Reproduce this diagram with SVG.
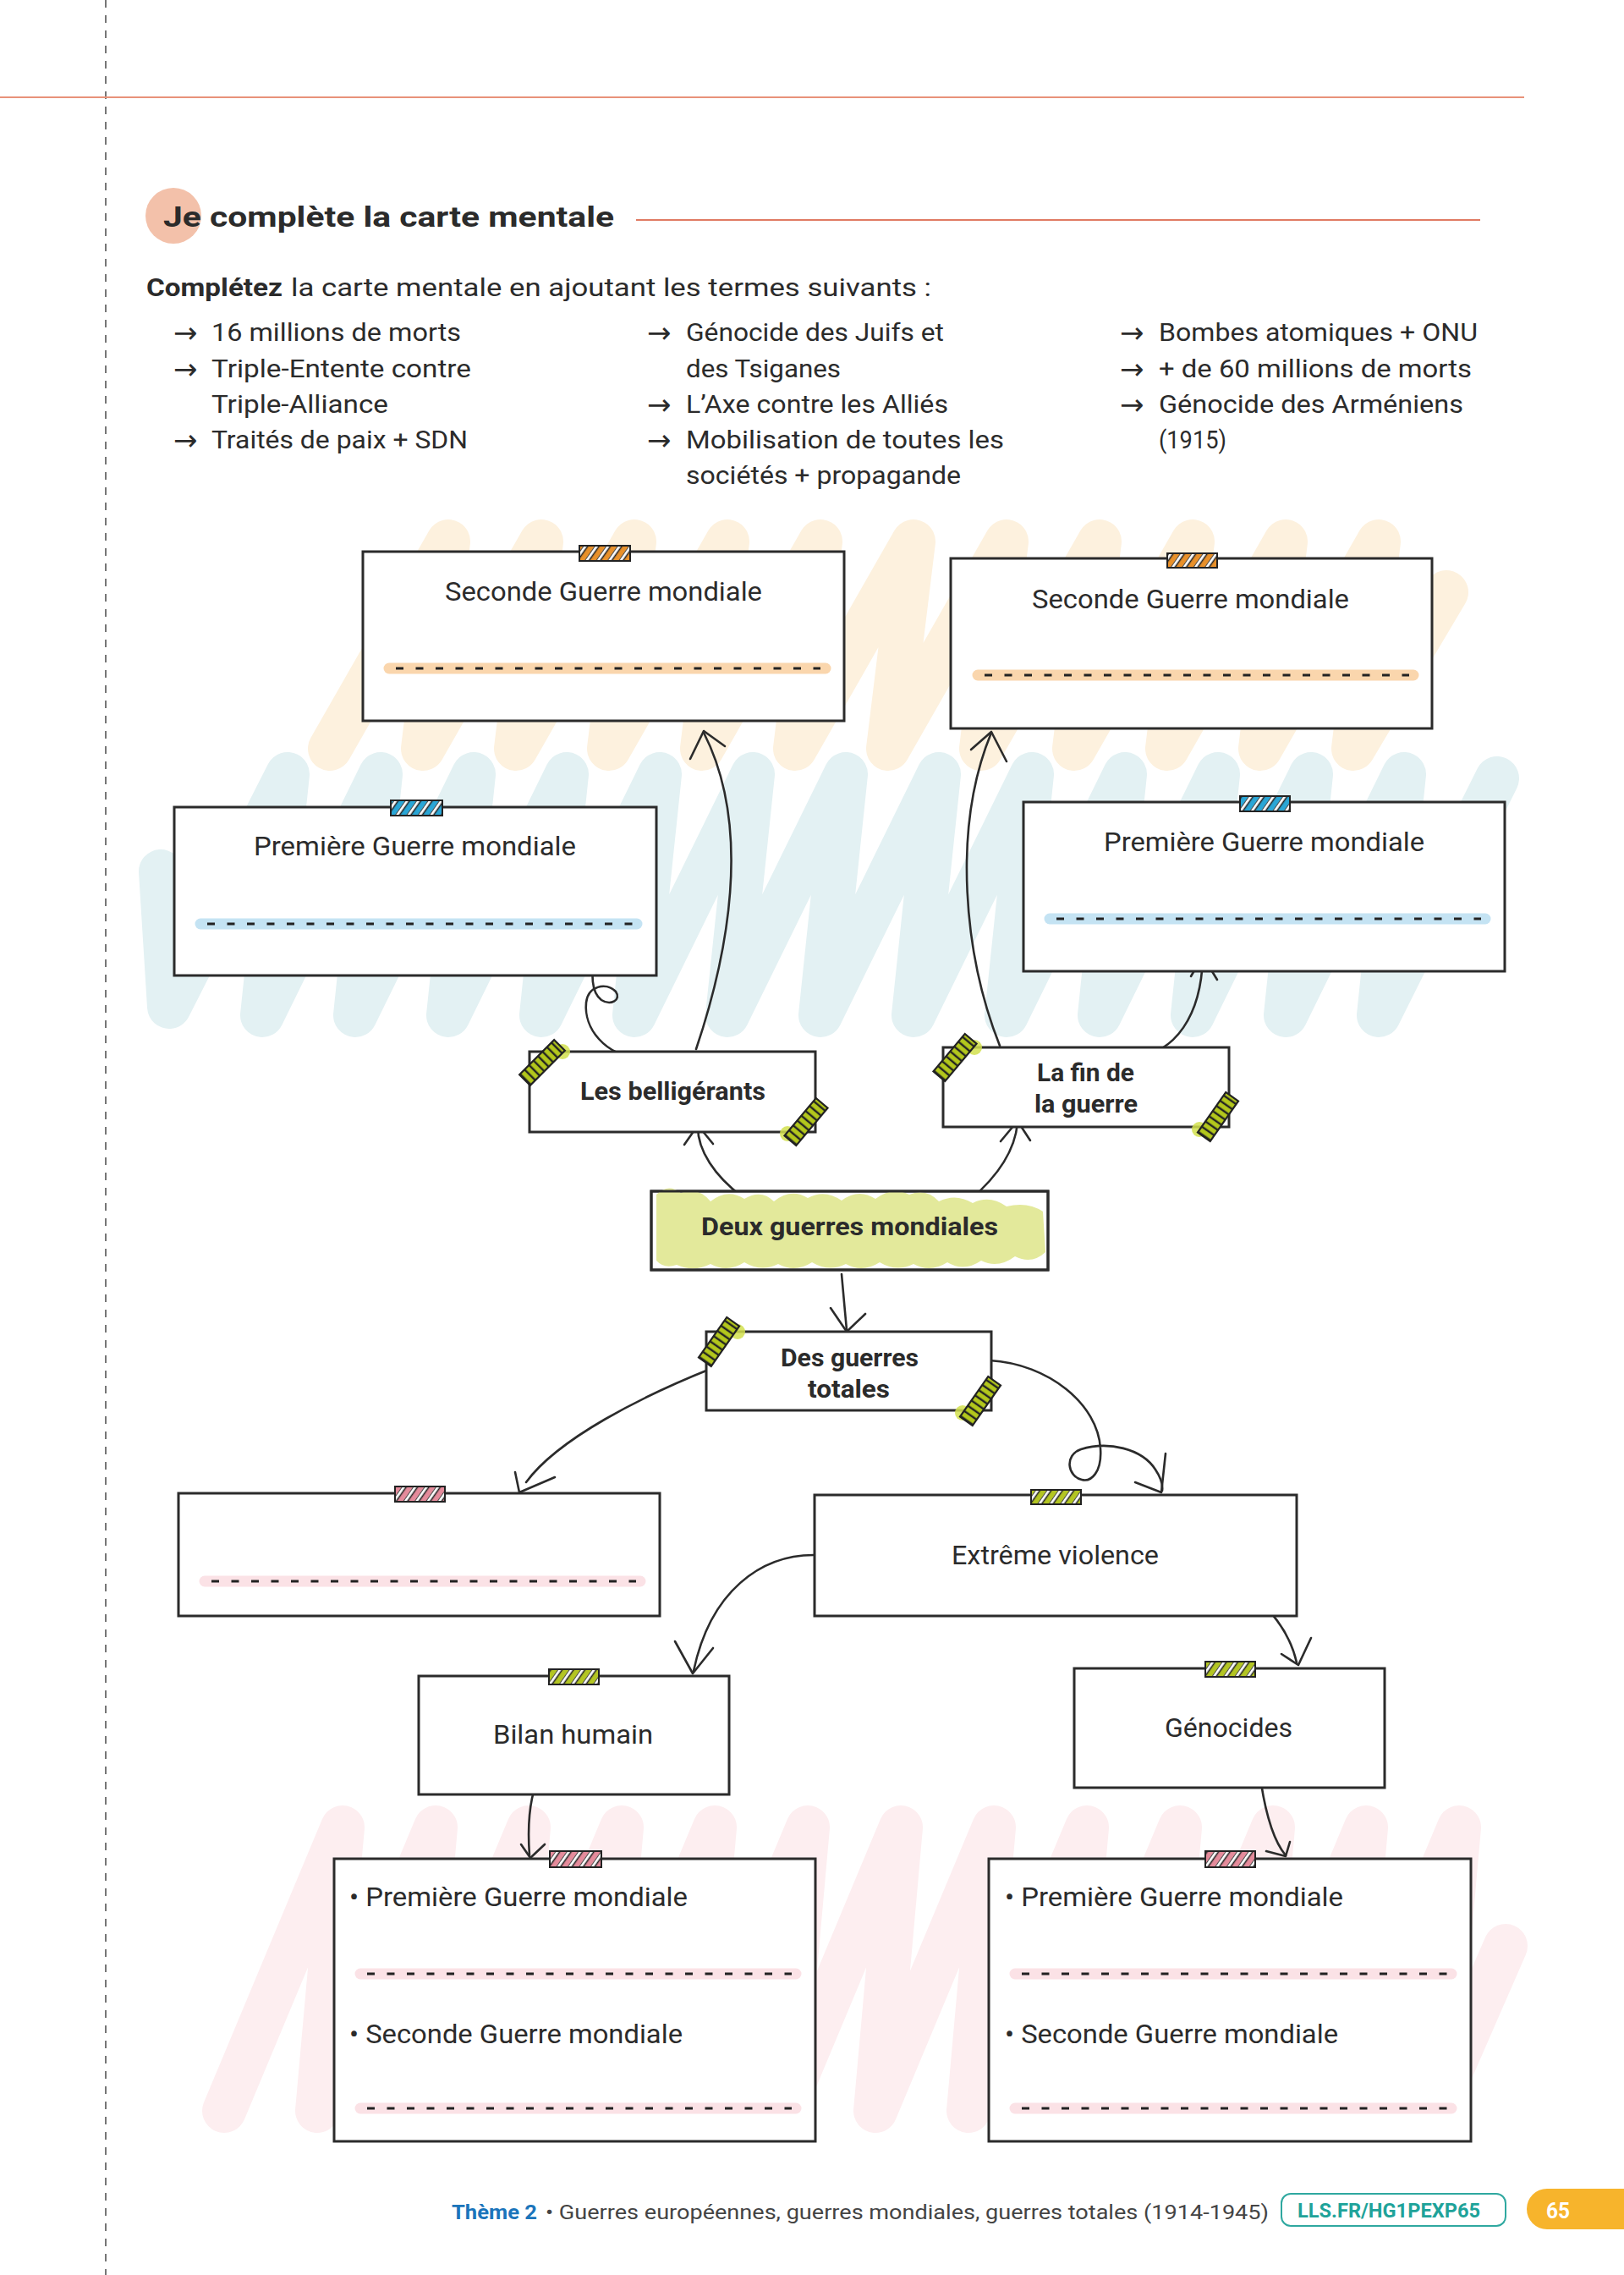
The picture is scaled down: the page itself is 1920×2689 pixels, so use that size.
<svg xmlns="http://www.w3.org/2000/svg" width="1920" height="2689" viewBox="0 0 1920 2689">
<defs>
<style>
.box{fill:#fff;stroke:#2b2b2b;stroke-width:3}
.t{font-family:Roboto,"Open Sans",sans-serif;fill:#2b2b2b}
.r{font-size:31px}
.b{font-weight:700;font-size:29px}
.li{font-size:30px}
.ar{font-family:"DejaVu Sans",sans-serif;font-size:34px;fill:#2b2b2b}
.con{fill:none;stroke:#2b2b2b;stroke-width:2.6;stroke-linecap:round;stroke-linejoin:round}
.hlO{stroke:#fad6ad;stroke-width:13;stroke-linecap:round}
.hlB{stroke:#c4e3f3;stroke-width:13;stroke-linecap:round}
.hlP{stroke:#fbe2e6;stroke-width:13;stroke-linecap:round}
.dash{stroke:#222;stroke-width:3;stroke-dasharray:9 14.5}
.scrO{fill:none;stroke:#fdf1de;stroke-width:52;stroke-linecap:round;stroke-linejoin:round}
.scrB{fill:none;stroke:#e3f1f3;stroke-width:52;stroke-linecap:round;stroke-linejoin:round}
.scrP{fill:none;stroke:#fdeef0;stroke-width:52;stroke-linecap:round;stroke-linejoin:round}
.tapeO{fill:#e8902a}
.tapeB{fill:#2aa6d6}
.tapeP{fill:#e48b9b}
.tapeG{fill:#b3c523}
.tapeS{fill:url(#stripes);stroke:#222;stroke-width:2}
.dtape{fill:#b3c71c}
.dtapeS{fill:url(#hatch);stroke:#222;stroke-width:2.2}
.glow{fill:#d2e04e;opacity:.85}
</style>
<pattern id="stripes" patternUnits="userSpaceOnUse" width="11" height="11" patternTransform="rotate(35)">
<rect x="0" y="0" width="4.5" height="11" fill="#fff"/>
<line x1="0" y1="0" x2="0" y2="11" stroke="#222" stroke-width="1.6"/>
<line x1="4.5" y1="0" x2="4.5" y2="11" stroke="#222" stroke-width="1.6"/>
</pattern>
<pattern id="hatch" patternUnits="userSpaceOnUse" width="7.5" height="10">
<line x1="2" y1="0" x2="2" y2="10" stroke="#222" stroke-width="2.4"/>
</pattern>
</defs>
<rect width="1920" height="2689" fill="#fff"/>

<!-- page frame -->
<line x1="125" y1="0" x2="125" y2="2689" stroke="#555" stroke-width="1.6" stroke-dasharray="9 9"/>
<line x1="0" y1="115" x2="1802" y2="115" stroke="#e8927a" stroke-width="2"/>

<!-- header -->
<g id="header">
<circle cx="205" cy="255" r="33" fill="#f3c1aa"/>
<text class="t" x="193" y="268" font-size="34" font-weight="700" textLength="533" lengthAdjust="spacingAndGlyphs">Je complète la carte mentale</text>
<line x1="752" y1="260" x2="1750" y2="260" stroke="#e07b63" stroke-width="1.8"/>
<text class="t li" x="173" y="350"><tspan font-weight="700" textLength="161" lengthAdjust="spacingAndGlyphs">Complétez</tspan><tspan x="344" textLength="757" lengthAdjust="spacingAndGlyphs">la carte mentale en ajoutant les termes suivants :</tspan></text>
<text class="ar" x="205" y="405">→</text>
<text class="ar" x="205" y="448">→</text>
<text class="ar" x="205" y="532">→</text>
<text class="t li" x="250" y="403" textLength="295" lengthAdjust="spacingAndGlyphs">16 millions de morts</text>
<text class="t li" x="250" y="446" textLength="307" lengthAdjust="spacingAndGlyphs">Triple-Entente contre</text>
<text class="t li" x="250" y="488" textLength="209" lengthAdjust="spacingAndGlyphs">Triple-Alliance</text>
<text class="t li" x="250" y="530" textLength="303" lengthAdjust="spacingAndGlyphs">Traités de paix + SDN</text>
<text class="ar" x="765" y="405">→</text>
<text class="ar" x="765" y="490">→</text>
<text class="ar" x="765" y="532">→</text>
<text class="t li" x="811" y="403" textLength="305" lengthAdjust="spacingAndGlyphs">Génocide des Juifs et</text>
<text class="t li" x="811" y="446" textLength="183" lengthAdjust="spacingAndGlyphs">des Tsiganes</text>
<text class="t li" x="811" y="488" textLength="310" lengthAdjust="spacingAndGlyphs">L’Axe contre les Alliés</text>
<text class="t li" x="811" y="530" textLength="376" lengthAdjust="spacingAndGlyphs">Mobilisation de toutes les</text>
<text class="t li" x="811" y="572" textLength="325" lengthAdjust="spacingAndGlyphs">sociétés + propagande</text>
<text class="ar" x="1324" y="405">→</text>
<text class="ar" x="1324" y="448">→</text>
<text class="ar" x="1324" y="490">→</text>
<text class="t li" x="1370" y="403" textLength="377" lengthAdjust="spacingAndGlyphs">Bombes atomiques + ONU</text>
<text class="t li" x="1370" y="446" textLength="370" lengthAdjust="spacingAndGlyphs">+ de 60 millions de morts</text>
<text class="t li" x="1370" y="488" textLength="360" lengthAdjust="spacingAndGlyphs">Génocide des Arméniens</text>
<text class="t li" x="1370" y="530" textLength="80" lengthAdjust="spacingAndGlyphs">(1915)</text>
</g>

<!-- background scribbles -->
<g id="scribbles">
<polyline class="scrO" points="390,885 530,640 500,885 640,640 610,885 750,640 720,885 860,640 830,885 970,640 940,885 1080,640 1050,885 1190,640 1160,885 1300,640 1270,885 1410,640 1380,885 1520,640 1490,885 1630,640 1600,885 1710,700"/>
<polyline class="scrB" points="190,1030 200,1190 340,915 310,1200 450,915 420,1200 560,915 530,1200 670,915 640,1200 780,915 750,1200 890,915 860,1200 1000,915 970,1200 1110,915 1080,1200 1220,915 1190,1200 1330,915 1300,1200 1440,915 1410,1200 1550,915 1520,1200 1660,915 1630,1200 1770,920"/>
<polyline class="scrP" points="265,2495 405,2160 375,2495 515,2160 485,2495 625,2160 595,2495 735,2160 705,2495 845,2160 815,2495 955,2160 925,2495 1065,2160 1035,2495 1175,2160 1145,2495 1285,2160 1255,2495 1395,2160 1365,2495 1505,2160 1475,2495 1615,2160 1585,2495 1725,2160 1695,2495 1780,2300"/>
</g>

<!-- connectors -->
<g id="connectors">
<path class="con" d="M823,1240 C860,1130 890,980 832,866"/>
<path class="con" d="M816,897 L832,864 L857,882"/>
<path class="con" d="M756,1250 C715,1248 690,1215 693,1185 C695,1166 716,1160 728,1172 C735,1182 722,1189 711,1182 C698,1172 700,1150 702,1135"/>
<path class="con" d="M686,1148 L702,1132 L712,1150"/>
<path class="con" d="M1182,1236 C1140,1130 1125,980 1172,866"/>
<path class="con" d="M1148,886 L1172,865 L1190,900"/>
<path class="con" d="M1340,1250 C1390,1245 1420,1200 1422,1132"/>
<path class="con" d="M1408,1154 L1422,1130 L1439,1158"/>
<path class="con" d="M877,1414 C845,1390 825,1360 825,1332"/>
<path class="con" d="M809,1353 L825,1330 L843,1352"/>
<path class="con" d="M1147,1418 C1180,1390 1200,1360 1203,1327"/>
<path class="con" d="M1183,1349 L1203,1325 L1218,1348"/>
<path class="con" d="M995,1506 C997,1530 999,1550 1001,1572"/>
<path class="con" d="M982,1546 L1001,1574 L1023,1553"/>
<path class="con" d="M840,1618 C760,1650 660,1700 622,1752"/>
<path class="con" d="M609,1740 L614,1764 L656,1746"/>
<path class="con" d="M1170,1608 C1240,1612 1298,1660 1301,1712 C1303,1740 1290,1752 1279,1749 C1262,1745 1258,1720 1278,1713 C1310,1703 1350,1712 1366,1737 C1372,1746 1375,1755 1374,1762"/>
<path class="con" d="M1342,1752 L1373,1764 L1378,1718"/>
<path class="con" d="M962,1838 C900,1838 840,1880 820,1975"/>
<path class="con" d="M798,1940 L819,1978 L843,1948"/>
<path class="con" d="M1469,1881 C1500,1895 1525,1930 1533,1965"/>
<path class="con" d="M1515,1955 L1535,1968 L1550,1936"/>
<path class="con" d="M634,2108 C624,2135 624,2165 626,2193"/>
<path class="con" d="M616,2180 L627,2196 L644,2180"/>
<path class="con" d="M1491,2108 C1496,2140 1505,2175 1520,2193"/>
<path class="con" d="M1497,2188 L1520,2194 L1525,2177"/>
</g>

<!-- nodes -->
<g id="node-sgm-left">
<rect class="box" x="429" y="652" width="569" height="200"/>
<rect class="tapeO" x="685" y="645" width="60" height="18"/><rect class="tapeS" x="685" y="645" width="60" height="18"/>
<text class="t r" x="526" y="710" textLength="375" lengthAdjust="spacingAndGlyphs">Seconde Guerre mondiale</text>
<line class="hlO" x1="460" y1="790" x2="976" y2="790"/>
<line class="dash" x1="468" y1="790" x2="970" y2="790"/>
</g>
<g id="node-pgm-left">
<rect class="box" x="206" y="954" width="570" height="199"/>
<rect class="tapeB" x="462" y="946" width="61" height="18"/><rect class="tapeS" x="462" y="946" width="61" height="18"/>
<text class="t r" x="300" y="1011" textLength="381" lengthAdjust="spacingAndGlyphs">Première Guerre mondiale</text>
<line class="hlB" x1="237" y1="1092" x2="753" y2="1092"/>
<line class="dash" x1="245" y1="1092" x2="748" y2="1092"/>
</g>
<g id="node-sgm-right">
<rect class="box" x="1124" y="660" width="569" height="201"/>
<rect class="tapeO" x="1380" y="654" width="59" height="17"/><rect class="tapeS" x="1380" y="654" width="59" height="17"/>
<text class="t r" x="1220" y="719" textLength="375" lengthAdjust="spacingAndGlyphs">Seconde Guerre mondiale</text>
<line class="hlO" x1="1156" y1="798" x2="1671" y2="798"/>
<line class="dash" x1="1164" y1="798" x2="1666" y2="798"/>
</g>
<g id="node-pgm-right">
<rect class="box" x="1210" y="948" width="569" height="200"/>
<rect class="tapeB" x="1466" y="941" width="59" height="18"/><rect class="tapeS" x="1466" y="941" width="59" height="18"/>
<text class="t r" x="1305" y="1006" textLength="379" lengthAdjust="spacingAndGlyphs">Première Guerre mondiale</text>
<line class="hlB" x1="1241" y1="1086" x2="1756" y2="1086"/>
<line class="dash" x1="1249" y1="1086" x2="1751" y2="1086"/>
</g>

<g id="node-belligerants">
<rect class="box" x="626" y="1243" width="338" height="95"/>
<text class="t b" x="686" y="1300" textLength="219" lengthAdjust="spacingAndGlyphs">Les belligérants</text>
<circle class="glow" cx="665" cy="1243" r="9"/>
<g transform="translate(641,1256) rotate(-45)"><rect class="dtape" x="-29" y="-9" width="58" height="18"/><rect class="dtapeS" x="-29" y="-9" width="58" height="18"/></g>
<circle class="glow" cx="931" cy="1340" r="9"/>
<g transform="translate(953,1326) rotate(-50)"><rect class="dtape" x="-29" y="-9" width="58" height="18"/><rect class="dtapeS" x="-29" y="-9" width="58" height="18"/></g>
</g>
<g id="node-fin">
<rect class="box" x="1115" y="1238" width="338" height="94"/>
<text class="t b" x="1226" y="1278" textLength="115" lengthAdjust="spacingAndGlyphs">La fin de</text>
<text class="t b" x="1223" y="1315" textLength="122" lengthAdjust="spacingAndGlyphs">la guerre</text>
<circle class="glow" cx="1152" cy="1238" r="9"/>
<g transform="translate(1129,1250) rotate(-50)"><rect class="dtape" x="-29" y="-9" width="58" height="18"/><rect class="dtapeS" x="-29" y="-9" width="58" height="18"/></g>
<circle class="glow" cx="1418" cy="1335" r="9"/>
<g transform="translate(1440,1320) rotate(-55)"><rect class="dtape" x="-29" y="-9" width="58" height="18"/><rect class="dtapeS" x="-29" y="-9" width="58" height="18"/></g>
</g>
<g id="node-deux">
<rect class="box" x="770" y="1408" width="469" height="93"/>
<path fill="#e3e99b" d="M776,1412 Q790,1398 805,1410 Q825,1402 840,1420 Q860,1404 880,1417 Q900,1405 915,1420 Q935,1404 955,1416 Q975,1405 995,1419 Q1015,1404 1035,1417 Q1055,1402 1075,1412 Q1095,1404 1110,1420 Q1130,1410 1150,1422 Q1170,1412 1190,1426 Q1215,1420 1233,1432 L1236,1480 Q1220,1495 1200,1485 Q1180,1500 1160,1490 Q1140,1504 1120,1492 Q1100,1505 1080,1494 Q1060,1504 1040,1492 Q1020,1505 1000,1494 Q980,1504 960,1492 Q940,1505 920,1494 Q900,1504 880,1492 Q860,1505 840,1494 Q820,1504 800,1495 Q785,1500 776,1490 Z"/>
<rect x="770" y="1408" width="469" height="93" fill="none" stroke="#2b2b2b" stroke-width="3"/>
<text class="t b" x="829" y="1460" textLength="351" lengthAdjust="spacingAndGlyphs">Deux guerres mondiales</text>
</g>
<g id="node-totales">
<rect class="box" x="835" y="1574" width="337" height="93"/>
<text class="t b" x="923" y="1615" textLength="163" lengthAdjust="spacingAndGlyphs">Des guerres</text>
<text class="t b" x="955" y="1652" textLength="97" lengthAdjust="spacingAndGlyphs">totales</text>
<circle class="glow" cx="872" cy="1574" r="9"/>
<g transform="translate(850,1586) rotate(-55)"><rect class="dtape" x="-29" y="-9" width="58" height="18"/><rect class="dtapeS" x="-29" y="-9" width="58" height="18"/></g>
<circle class="glow" cx="1138" cy="1670" r="9"/>
<g transform="translate(1159,1656) rotate(-55)"><rect class="dtape" x="-29" y="-9" width="58" height="18"/><rect class="dtapeS" x="-29" y="-9" width="58" height="18"/></g>
</g>

<g id="node-empty">
<rect class="box" x="211" y="1765" width="569" height="145"/>
<rect class="tapeP" x="467" y="1757" width="59" height="18"/><rect class="tapeS" x="467" y="1757" width="59" height="18"/>
<line class="hlP" x1="242" y1="1869" x2="757" y2="1869"/>
<line class="dash" x1="250" y1="1869" x2="752" y2="1869"/>
</g>
<g id="node-violence">
<rect class="box" x="963" y="1767" width="570" height="143"/>
<rect class="tapeG" x="1219" y="1761" width="59" height="17"/><rect class="tapeS" x="1219" y="1761" width="59" height="17"/>
<text class="t r" x="1125" y="1849" textLength="245" lengthAdjust="spacingAndGlyphs">Extrême violence</text>
</g>
<g id="node-bilan">
<rect class="box" x="495" y="1981" width="367" height="140"/>
<rect class="tapeG" x="649" y="1973" width="59" height="18"/><rect class="tapeS" x="649" y="1973" width="59" height="18"/>
<text class="t r" x="583" y="2061" textLength="189" lengthAdjust="spacingAndGlyphs">Bilan humain</text>
</g>
<g id="node-genocides">
<rect class="box" x="1270" y="1972" width="367" height="141"/>
<rect class="tapeG" x="1425" y="1964" width="59" height="18"/><rect class="tapeS" x="1425" y="1964" width="59" height="18"/>
<text class="t r" x="1377" y="2053" textLength="151" lengthAdjust="spacingAndGlyphs">Génocides</text>
</g>
<g id="node-bilan-detail">
<rect class="box" x="395" y="2197" width="569" height="334"/>
<rect class="tapeP" x="650" y="2188" width="61" height="19"/><rect class="tapeS" x="650" y="2188" width="61" height="19"/>
<text class="t r" x="413" y="2253" textLength="400" lengthAdjust="spacingAndGlyphs">• Première Guerre mondiale</text>
<line class="hlP" x1="426" y1="2333" x2="941" y2="2333"/>
<line class="dash" x1="434" y1="2333" x2="936" y2="2333"/>
<text class="t r" x="413" y="2415" textLength="394" lengthAdjust="spacingAndGlyphs">• Seconde Guerre mondiale</text>
<line class="hlP" x1="426" y1="2492" x2="941" y2="2492"/>
<line class="dash" x1="434" y1="2492" x2="936" y2="2492"/>
</g>
<g id="node-genocides-detail">
<rect class="box" x="1169" y="2197" width="570" height="334"/>
<rect class="tapeP" x="1425" y="2188" width="59" height="19"/><rect class="tapeS" x="1425" y="2188" width="59" height="19"/>
<text class="t r" x="1188" y="2253" textLength="400" lengthAdjust="spacingAndGlyphs">• Première Guerre mondiale</text>
<line class="hlP" x1="1200" y1="2333" x2="1716" y2="2333"/>
<line class="dash" x1="1208" y1="2333" x2="1711" y2="2333"/>
<text class="t r" x="1188" y="2415" textLength="394" lengthAdjust="spacingAndGlyphs">• Seconde Guerre mondiale</text>
<line class="hlP" x1="1200" y1="2492" x2="1716" y2="2492"/>
<line class="dash" x1="1208" y1="2492" x2="1711" y2="2492"/>
</g>

<!-- footer -->
<g id="footer">
<text class="t" x="534" y="2623" font-size="24" font-weight="700" style="fill:#1b75bb" textLength="101" lengthAdjust="spacingAndGlyphs">Thème 2</text>
<text class="t" x="645" y="2623" font-size="24" style="fill:#444" textLength="855" lengthAdjust="spacingAndGlyphs">• Guerres européennes, guerres mondiales, guerres totales (1914-1945)</text>
<rect x="1515" y="2593" width="265" height="38" rx="11" fill="#fff" stroke="#2fa8a0" stroke-width="2"/>
<text class="t" x="1534" y="2621" font-size="23" font-weight="700" style="fill:#1fa39a" textLength="216" lengthAdjust="spacingAndGlyphs">LLS.FR/HG1PEXP65</text>
<path d="M1829,2587 H1920 V2635 H1829 A24,24 0 0 1 1805,2611 A24,24 0 0 1 1829,2587 Z" fill="#f7b42c"/>
<text class="t" x="1828" y="2622" font-size="25" font-weight="700" style="fill:#fff" textLength="28" lengthAdjust="spacingAndGlyphs">65</text>
</g>
</svg>
